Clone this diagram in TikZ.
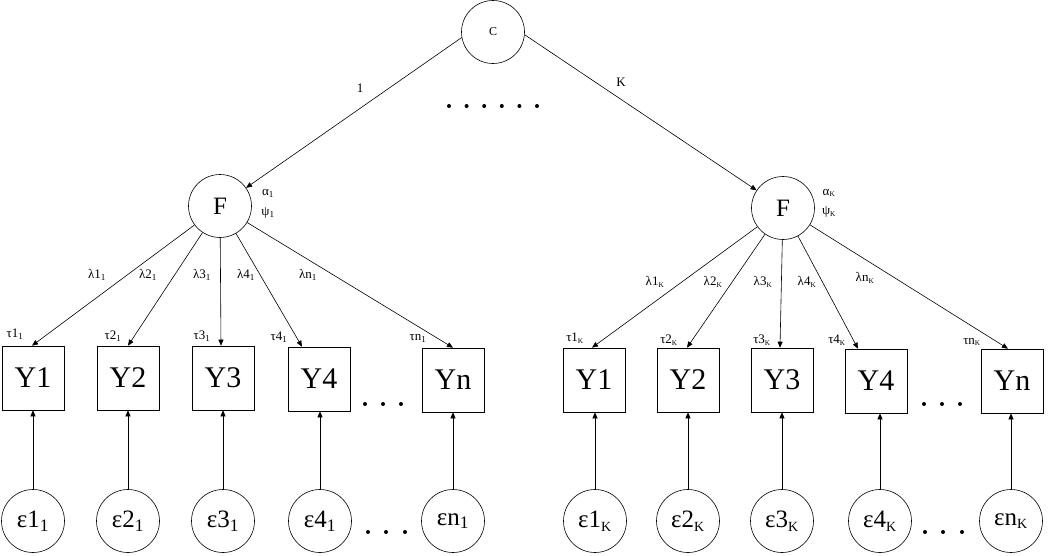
\documentclass[tikz,border=0pt]{standalone}
\usepackage{fontspec}
\setmainfont{Liberation Serif}
\usetikzlibrary{arrows.meta}
\newcommand{\sK}{\textsubscript{\scalebox{0.8}{K}}}
\begin{document}
\begin{tikzpicture}[x=1pt,y=-1pt,
 conn/.style={line width=0.6pt, -{Triangle[length=6pt,width=5pt]}},
 latent/.style={draw, circle, line width=0.6pt, inner sep=0pt, minimum size=63pt, font=\fontsize{25}{27}\selectfont},
 errc/.style={draw, circle, line width=0.6pt, inner sep=0pt, minimum size=63pt, font=\fontsize{25}{27}\selectfont},
 obs/.style={draw, rectangle, line width=0.6pt, inner sep=0pt, minimum width=62pt, minimum height=64pt, font=\fontsize{30}{32}\selectfont},
 lab/.style={inner sep=0pt, font=\fontsize{13}{15}\selectfont},
 dot/.style={fill, circle, inner sep=0pt, minimum size=4pt}]
\useasboundingbox (0,0) rectangle (1050,555);

% top class node
\node[latent, font=\fontsize{12}{14}\selectfont] (C) at (493,32) {C};
\foreach \i/\x in {1/449,2/466.6,3/484.2,4/501.8,5/519.4,6/537}
  \node[dot] (td\i) at (\x,106) {};

% factors
\node[latent] (FA) at (220,206) {F};
\node[latent] (FB) at (783,208) {F};
\node[lab] (la) at (268,193) {α\textsubscript{1}};
\node[lab] (lp) at (268,213) {ψ\textsubscript{1}};
\node[lab] (ra) at (829,193) {α\sK};
\node[lab] (rp) at (829,212) {ψ\sK};

\draw[conn] (C.190) -- (FA);
\draw[conn] (C.-5) -- (FB);
\node[lab] (l1) at (360,88) {1};
\node[lab] (lK) at (621,82) {K};

% observed, left group
\node[obs] (A1) at (33,378) {Y1};
\node[obs] (A2) at (128,378) {Y2};
\node[obs] (A3) at (223,378) {Y3};
\node[obs] (A4) at (319,379) {Y4};
\node[obs] (A5) at (453,380) {Yn};
% observed, right group
\node[obs] (B1) at (594,380) {Y1};
\node[obs] (B2) at (688,380) {Y2};
\node[obs] (B3) at (782,380) {Y3};
\node[obs] (B4) at (876,381) {Y4};
\node[obs] (B5) at (1012,381) {Yn};

\foreach \i/\x in {1/365,2/383,3/401}
  \node[dot] (ad\i) at (\x,404) {};
\foreach \i/\x in {1/924,2/942,3/960}
  \node[dot] (bd\i) at (\x,404) {};

% loadings
\draw[conn] (FA) -- ([xshift=-1pt]A1.north);
\draw[conn] (FA) -- (A2.north);
\draw[conn] (FA) -- ([xshift=-2pt]A3.north);
\draw[conn] (FA) -- ([xshift=-17pt]A4.north);
\draw[conn] (FA) -- (A5.north);
\draw[conn] (FB) -- ([xshift=-2pt]B1.north);
\draw[conn] (FB) -- ([xshift=-1pt]B2.north);
\draw[conn] (FB) -- ([xshift=-2pt]B3.north);
\draw[conn] (FB) -- ([xshift=-18pt]B4.north);
\draw[conn] (FB) -- ([xshift=-4pt]B5.north);

\node[lab] (lam1) at (97,275) {λ1\textsubscript{1}};
\node[lab] (lam2) at (148,275) {λ2\textsubscript{1}};
\node[lab] (lam3) at (202,275) {λ3\textsubscript{1}};
\node[lab] (lam4) at (246,275) {λ4\textsubscript{1}};
\node[lab] (lam5) at (308,275) {λn\textsubscript{1}};
\node[lab] (tau1) at (15,334) {τ1\textsubscript{1}};
\node[lab] (tau2) at (113,336) {τ2\textsubscript{1}};
\node[lab] (tau3) at (202,336) {τ3\textsubscript{1}};
\node[lab] (tau4) at (279,337) {τ4\textsubscript{1}};
\node[lab] (tau5) at (418,338) {τn\textsubscript{1}};

\node[lab] (lbm1) at (655,282) {λ1\sK};
\node[lab] (lbm2) at (713,282) {λ2\sK};
\node[lab] (lbm3) at (763,282) {λ3\sK};
\node[lab] (lbm4) at (807,282) {λ4\sK};
\node[lab] (lbm5) at (865,278) {λn\sK};
\node[lab] (tbu1) at (575,338) {τ1\sK};
\node[lab] (tbu2) at (669,340) {τ2\sK};
\node[lab] (tbu3) at (762,340) {τ3\sK};
\node[lab] (tbu4) at (837,340) {τ4\sK};
\node[lab] (tbu5) at (972,342) {τn\sK};

% errors
\node[errc] (EA1) at (33,521) {ε1\textsubscript{1}};
\node[errc] (EA2) at (128,521) {ε2\textsubscript{1}};
\node[errc] (EA3) at (223,521) {ε3\textsubscript{1}};
\node[errc] (EA4) at (320,521) {ε4\textsubscript{1}};
\node[errc] (EA5) at (453,521) {εn\textsubscript{1}};
\node[errc] (EB1) at (595,521) {ε1\sK};
\node[errc] (EB2) at (688,521) {ε2\sK};
\node[errc] (EB3) at (782,521) {ε3\sK};
\node[errc] (EB4) at (880,521) {ε4\sK};
\node[errc] (EB5) at (1011,521) {εn\sK};

\foreach \i/\x in {1/368,2/386,3/405}
  \node[dot] (ed\i) at (\x,532) {};
\foreach \i/\x in {1/925,2/943,3/962}
  \node[dot] (fd\i) at (\x,532) {};

\foreach \k in {1,...,5}{
  \draw[conn] (EA\k) -- (EA\k |- A\k.south);
  \draw[conn] (EB\k) -- (EB\k |- B\k.south);
}
\end{tikzpicture}
\end{document}
